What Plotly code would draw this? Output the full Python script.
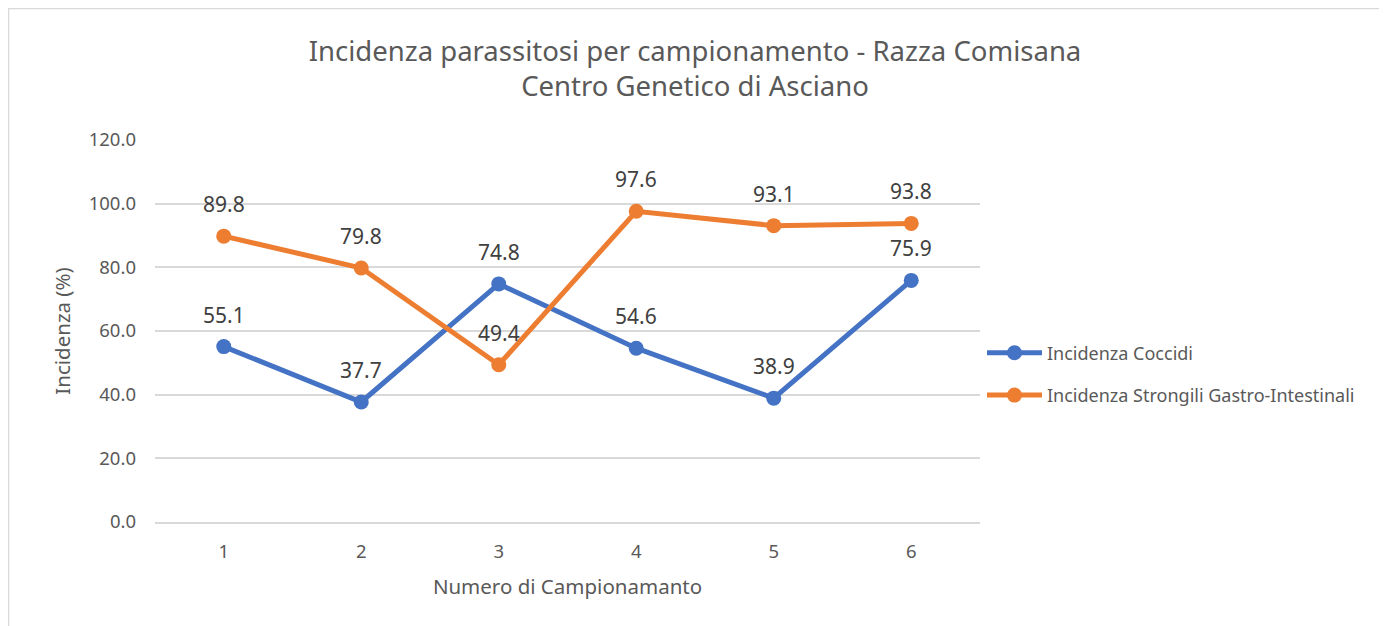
import plotly.graph_objects as go

categories = ["1", "2", "3", "4", "5", "6"]
coccidi = [55.1, 37.7, 74.8, 54.6, 38.9, 75.9]
strongili = [89.8, 79.8, 49.4, 97.6, 93.1, 93.8]
series_names = ["Incidenza Coccidi", "Incidenza Strongili Gastro-Intestinali"]
y_ticks = [0, 20, 40, 60, 80, 100, 120]

BLUE = "#4472C4"
ORANGE = "#ED7D31"
FONT = "Noto Sans"
# page has an 8px body margin; figure coordinates are page coords minus 8
W, H = 1379, 618
L, R, T, B = 147, 407, 132, 104
pw, ph = W - L - R, H - T - B

fig = go.Figure()
for i, (name, vals, col) in enumerate([(series_names[0], coccidi, BLUE),
                                       (series_names[1], strongili, ORANGE)]):
    fig.add_trace(go.Scatter(
        x=categories, y=vals, name=name, mode="lines+markers",
        line=dict(color=col, width=5),
        marker=dict(color=col, size=15),
        legendgroup=str(i),
    ))
    for k, v in enumerate(vals):
        fig.add_annotation(x=k, y=v, text=f"{v:.1f}", showarrow=False,
                           yshift=32, font=dict(family=FONT, size=21, color="#404040"))

def px_x(p):
    return (p - L) / pw

def px_y(p):
    return (H - B - p) / ph

fig.add_shape(type="rect", xref="paper", yref="paper",
              x0=px_x(0.5), x1=px_x(1373), y0=px_y(640), y1=px_y(0.5),
              line=dict(color="#D9D9D9", width=1.5), fillcolor="rgba(0,0,0,0)")

fig.update_layout(
    width=W, height=H,
    margin=dict(l=L, r=R, t=T, b=B),
    paper_bgcolor="white", plot_bgcolor="white",
    font=dict(family=FONT, color="#595959"),
    title=dict(text="Incidenza parassitosi per campionamento - Razza Comisana<br>Centro Genetico di Asciano",
               x=(695 - 8) / W, xanchor="center", xref="container", y=1 - 52.5 / H, yanchor="middle",
               font=dict(family=FONT, size=27.5, color="#595959")),
    xaxis=dict(type="category",
               title=dict(text="Numero di Campionamanto", font=dict(size=20.5, color="#595959"), standoff=18),
               tickfont=dict(size=18.5, color="#595959"),
               showgrid=False, showline=True, linecolor="#D9D9D9", linewidth=1.5,
               ticks="", ticklabelstandoff=12, range=[-0.5, 5.5]),
    yaxis=dict(title=dict(text="Incidenza (%)", font=dict(size=20.5, color="#595959"), standoff=12),
               tickfont=dict(size=18.5, color="#595959"),
               tickvals=y_ticks, ticktext=[f"{t:.1f}" for t in y_ticks],
               range=[0, 120], showgrid=True, gridcolor="#D9D9D9", gridwidth=1.5,
               zeroline=False, ticks="", ticklabelstandoff=18),
    legend=dict(x=px_x(974), xanchor="left", y=px_y(366), yanchor="middle",
                font=dict(size=18, color="#595959"), tracegroupgap=16,
                itemwidth=55, bgcolor="rgba(0,0,0,0)"),
)

fig.write_html("out.html")
